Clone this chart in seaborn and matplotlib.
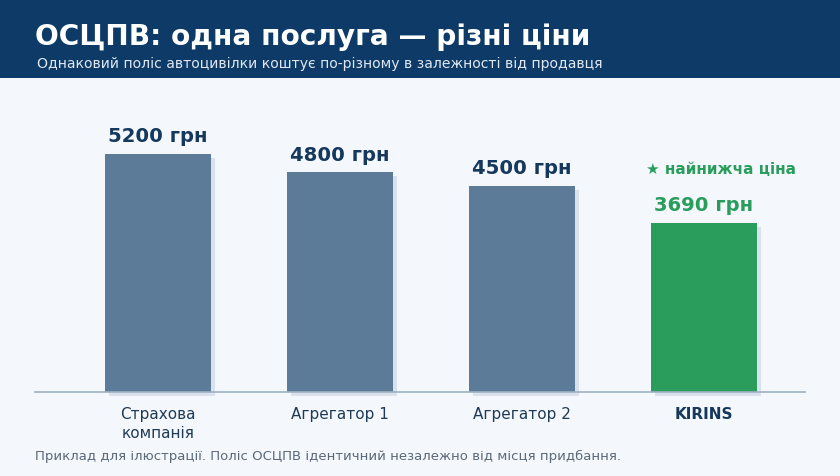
import matplotlib
matplotlib.use("Agg")
import matplotlib.pyplot as plt
import matplotlib.patheffects as pe
import seaborn as sns
import pandas as pd

categories = ["Страхова\nкомпанія", "Агрегатор 1", "Агрегатор 2", "KIRINS"]
prices = [5200, 4800, 4500, 3690]
value_labels = ["5200 грн", "4800 грн", "4500 грн", "3690 грн"]

title = "ОСЦПВ: одна послуга — різні ціни"
subtitle = "Однаковий поліс автоцивілки коштує по-різному в залежності від продавця"
footer = "Приклад для ілюстрації. Поліс ОСЦПВ ідентичний незалежно від місця придбання."
badge = "★ найнижча ціна"

BG = "#f4f8fc"
NAVY = "#0d3a66"
BAR = "#5b7b99"
GREEN = "#2a9d5c"
DARK = "#15385c"

sns.set_theme(style="white")
plt.rcParams["font.family"] = ["DejaVu Sans"]

W, H = 840, 476
fig = plt.figure(figsize=(W / 100, H / 100), dpi=100, facecolor=BG)

# header band
hdr = fig.add_axes([0, 1 - 78 / H, 1, 78 / H])
hdr.set_axis_off()
hdr.add_patch(plt.Rectangle((0, 0), 1, 1, color=NAVY, transform=hdr.transAxes))
fig.text(35 / W, 1 - 37 / H, title, color="white", fontsize=20.2, fontweight="bold",
         va="center", ha="left")
fig.text(37 / W, 1 - 64 / H, subtitle, color="#dfe8f2", fontsize=10.05, va="center", ha="left")

ax = fig.add_axes([35 / W, 1 - 392 / H, 770 / W, 292 / H])
ax.set_facecolor(BG)
df = pd.DataFrame({"cat": categories, "price": prices})
colors = [BAR, BAR, BAR, GREEN]
sns.barplot(data=df, x="cat", y="price", hue="cat", palette=colors, legend=False,
            width=0.582, ax=ax, saturation=1, linewidth=0)
for p in ax.patches:
    p.set_clip_on(False)
    p.set_linewidth(0)
    p.set_path_effects([pe.SimplePatchShadow(offset=(3, -3), shadow_rgbFace="#d8e1ec", alpha=1.0),
                        pe.Normal()])

ax.set_xlim(-0.676, 3.555)
ax.set_ylim(0, 6380)
ax.set_xlabel("")
ax.set_ylabel("")
ax.set_yticks([])
for s in ["top", "right", "left"]:
    ax.spines[s].set_visible(False)
ax.spines["bottom"].set_color("#9fb0c2")
ax.spines["bottom"].set_linewidth(1.2)
ax.spines["bottom"].set_zorder(5)
ax.tick_params(axis="x", length=0, pad=11, labelsize=11, labelcolor="#1f3a56")
ax.set_xticks(range(len(categories)))
ax.set_xticklabels(categories, linespacing=1.35)
ax.get_xticklabels()[-1].set_fontweight("bold")
ax.get_xticklabels()[-1].set_color(DARK)

for i, (v, lab) in enumerate(zip(prices, value_labels)):
    c = GREEN if i == 3 else DARK
    ax.annotate(lab, (i, v), xytext=(0, 5.5), textcoords="offset points", ha="center",
                va="bottom", fontsize=14.1, fontweight="bold", color=c)
ax.annotate(badge, (3, prices[3]), xytext=(12, 33), textcoords="offset points", ha="center",
            va="bottom", fontsize=11, fontweight="bold", color=GREEN)

fig.text(35 / W, 1 - 456 / H, footer, color="#5a6878", fontsize=9.5, va="center", ha="left")

fig.savefig("out.png", dpi=100, facecolor=BG)
